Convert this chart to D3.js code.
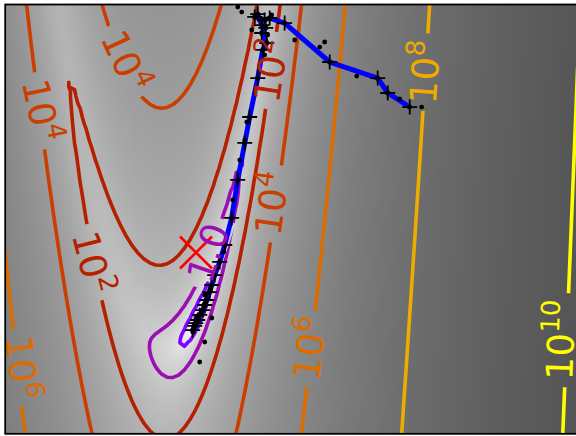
<!DOCTYPE html>
<html><head><meta charset="utf-8">
<script src="https://cdn.jsdelivr.net/npm/d3@7"></script>
<style>html,body{margin:0;padding:0;background:#fff;}svg{display:block;}</style>
</head><body>
<svg id="chart" width="576" height="436"></svg>
<script>
// ---------- data ----------
const xDomain = [-1.44, 2.88];
const yDomain = [-1.368, 1.872];
const gridSize = 100;
const contourLevels = [-4, -2, 0, 2, 4, 6, 8, 10];
const colorDomain = [-6, 10];

// optimizer iterates (blue line with + markers)
const pathX = [1.613,1.447,1.371,1.009,0.669,0.556,0.518,0.443,0.466,0.496,0.526,0.496,0.534,0.503,0.466,0.405,0.368,0.315,0.269,0.217,0.179,0.141,0.119,0.103,0.081,0.066,0.051,0.028,0.013,-0.002,-0.010,-0.025];
const pathY = [1.098,1.204,1.317,1.438,1.732,1.770,1.755,1.778,1.800,1.717,1.695,1.657,1.581,1.529,1.317,1.023,0.827,0.548,0.261,0.057,-0.071,-0.170,-0.245,-0.298,-0.358,-0.396,-0.434,-0.471,-0.509,-0.532,-0.554,-0.585];
// function evaluations (small black dots)
const evalX = [0.315,0.345,0.745,0.934,0.971,1.213,1.537,1.703,0.518,0.383,0.368,0.119,0.066,0.028,-0.025,0.420,0.571,0.541,0.330,0.277,0.209,0.156,0.103,0.073,0.043,0.020,-0.010,0.066];
const evalY = [1.853,1.815,1.604,1.551,1.589,1.332,1.159,1.098,1.491,0.985,0.849,-0.494,-0.675,-0.826,-0.600,1.680,1.793,1.642,0.698,0.397,0.004,-0.117,-0.283,-0.381,-0.449,-0.494,-0.539,-0.321];
// red cross
const markX = [0];
const markY = [0];
// contour labels
const labelLevels = [4, 4, 2, 2, 4, 6, 8, 10, 6, 0];
const labelX = [-0.513, -1.147, -0.762, 0.543, 0.551, 0.838, 1.706, 2.730, -1.290, 0.098];
const labelY = [1.453, 1.076, -0.071, 1.378, 0.374, -0.720, 1.363, -0.660, -0.864, -0.003];
const labelAngles = [65, 78, 76, -81, -82, -83, -86, -88, 84, -71];

// cost function (rosenbrock variant)
function cost(x, y) {
  const a = 4 * x + 1, b = 4 * y + 3;
  return 0.5 * (1 - a) * (1 - a) + (b - a * a) * (b - a * a);
}

// ---------- layout ----------
const svg = d3.select('#chart');
const plotLeft = 5.2, plotTop = 4.5, unitPx = 132.5;
const xScale = d3.scaleLinear().domain(xDomain)
  .range([plotLeft, plotLeft + unitPx * (xDomain[1] - xDomain[0])]);
const yScale = d3.scaleLinear().domain(yDomain)
  .range([plotTop + unitPx * (yDomain[1] - yDomain[0]), plotTop]);
const X0 = xScale(xDomain[0]), X1 = xScale(xDomain[1]);
const Y0 = yScale(yDomain[1]), Y1 = yScale(yDomain[0]);

const defs = svg.append('defs');
defs.append('clipPath').attr('id', 'clip').append('rect')
  .attr('x', X0).attr('y', Y0).attr('width', X1 - X0).attr('height', Y1 - Y0);

// ---------- grid ----------
const n = gridSize;
const dxs = (xDomain[1] - xDomain[0]) / (n - 1);
const dys = (yDomain[1] - yDomain[0]) / (n - 1);
const logZ = new Array(n * n);
for (let j = 0; j < n; j++) for (let i = 0; i < n; i++) {
  logZ[j * n + i] = Math.log(cost(xDomain[0] + i * dxs, yDomain[0] + j * dys) + 0.01);
}
const zMin = d3.min(logZ), zMax = d3.max(logZ);
const vMax = zMin + 1.5 * (zMax - zMin);
const grayScale = d3.scaleLinear().domain([zMin, vMax]).range([255, 0]).clamp(true);

const canvas = document.createElement('canvas');
canvas.width = n; canvas.height = n;
const ctx = canvas.getContext('2d');
const img = ctx.createImageData(n, n);
for (let j = 0; j < n; j++) for (let i = 0; i < n; i++) {
  const row = n - 1 - j, k = (row * n + i) * 4;
  const g = Math.round(grayScale(logZ[j * n + i]));
  img.data[k] = g; img.data[k + 1] = g; img.data[k + 2] = g; img.data[k + 3] = 255;
}
ctx.putImageData(img, 0, 0);

const plot = svg.append('g').attr('clip-path', 'url(#clip)');
plot.append('image')
  .attr('x', X0).attr('y', Y0).attr('width', X1 - X0).attr('height', Y1 - Y0)
  .attr('preserveAspectRatio', 'none')
  .attr('href', canvas.toDataURL());

// ---------- colours ----------
const colorNorm = d3.scaleLinear().domain(colorDomain).range([0, 1]).clamp(true);
function gnuplot(t) {
  return d3.rgb(255 * Math.sqrt(t), 255 * t * t * t, 255 * Math.max(0, Math.sin(2 * Math.PI * t))).toString();
}
const levelColor = L => gnuplot(colorNorm(L));

// ---------- labels (measured first for inline gaps) ----------
function fmt(L) {
  if (L > 1) return { main: '10', sup: String(L) };
  return { main: Math.exp(L - 0.01).toFixed(1), sup: null };
}
const labelLayer = svg.append('g');
const masks = {};
contourLevels.forEach(L => {
  const m = defs.append('mask').attr('id', 'mask' + (L + 10))
    .attr('maskUnits', 'userSpaceOnUse')
    .attr('x', 0).attr('y', 0).attr('width', 576).attr('height', 436);
  m.append('rect').attr('x', 0).attr('y', 0).attr('width', 576).attr('height', 436).attr('fill', '#fff');
  masks[L] = m;
});

labelLevels.forEach((L, idx) => {
  const f = fmt(L);
  const cx = xScale(labelX[idx]), cy = yScale(labelY[idx]);
  const tr = `translate(${cx},${cy}) rotate(${labelAngles[idx]})`;
  const g = labelLayer.append('g').attr('transform', tr);
  const t = g.append('text')
    .attr('text-anchor', 'middle')
    .attr('y', f.sup ? 16 : 12)
    .attr('font-family', '"DejaVu Sans", sans-serif')
    .attr('font-size', 37)
    .attr('fill', levelColor(L));
  t.append('tspan').text(f.main);
  if (f.sup) t.append('tspan').attr('font-size', 26).attr('dy', -15).text(f.sup);
  const bb = t.node().getBBox();
  masks[L].append('rect')
    .attr('transform', tr)
    .attr('x', bb.x - 7).attr('width', bb.width + 14)
    .attr('y', -16).attr('height', 32)
    .attr('fill', '#000');
});

// ---------- contours ----------
const contourGen = d3.contours().size([n, n]).thresholds(contourLevels);
const toPx = d3.geoTransform({
  point(cx, cy) {
    this.stream.point(xScale(xDomain[0] + (cx - 0.5) * dxs), yScale(yDomain[0] + (cy - 0.5) * dys));
  }
});
const geoPath = d3.geoPath(toPx);
const contourLayer = plot.append('g');
contourGen(logZ).forEach(c => {
  contourLayer.append('g').attr('mask', `url(#mask${c.value + 10})`)
    .append('path')
    .attr('d', geoPath(c))
    .attr('fill', 'none')
    .attr('stroke', levelColor(c.value))
    .attr('stroke-width', 3.6)
    .attr('stroke-linejoin', 'round');
});

// ---------- optimizer path ----------
const pts = pathX.map((x, i) => [x, pathY[i]]);
plot.append('path')
  .attr('d', d3.line().x(d => xScale(d[0])).y(d => yScale(d[1]))(pts))
  .attr('fill', 'none').attr('stroke', '#0000ff').attr('stroke-width', 5)
  .attr('stroke-linejoin', 'round').attr('stroke-linecap', 'butt');

const ps = 7.5;
plot.append('g').selectAll('path').data(pts).join('path')
  .attr('d', d => {
    const x = xScale(d[0]), y = yScale(d[1]);
    return `M${x - ps},${y}H${x + ps}M${x},${y - ps}V${y + ps}`;
  })
  .attr('stroke', '#000').attr('stroke-width', 1.8).attr('fill', 'none');

const evals = evalX.map((x, i) => [x, evalY[i]]).concat(pts);
plot.append('g').selectAll('circle').data(evals).join('circle')
  .attr('cx', d => xScale(d[0])).attr('cy', d => yScale(d[1]))
  .attr('r', 2.4).attr('fill', '#000');

const ms = 16;
plot.append('g').selectAll('path').data(markX.map((x, i) => [x, markY[i]])).join('path')
  .attr('d', d => {
    const x = xScale(d[0]), y = yScale(d[1]);
    return `M${x - ms},${y - ms}L${x + ms},${y + ms}M${x - ms},${y + ms}L${x + ms},${y - ms}`;
  })
  .attr('stroke', '#ff0000').attr('stroke-width', 2.6).attr('fill', 'none');

// labels on top
labelLayer.raise();

// ---------- frame ----------
svg.append('rect')
  .attr('x', X0).attr('y', Y0).attr('width', X1 - X0).attr('height', Y1 - Y0)
  .attr('fill', 'none').attr('stroke', '#000').attr('stroke-width', 1.8);
</script>
</body></html>
